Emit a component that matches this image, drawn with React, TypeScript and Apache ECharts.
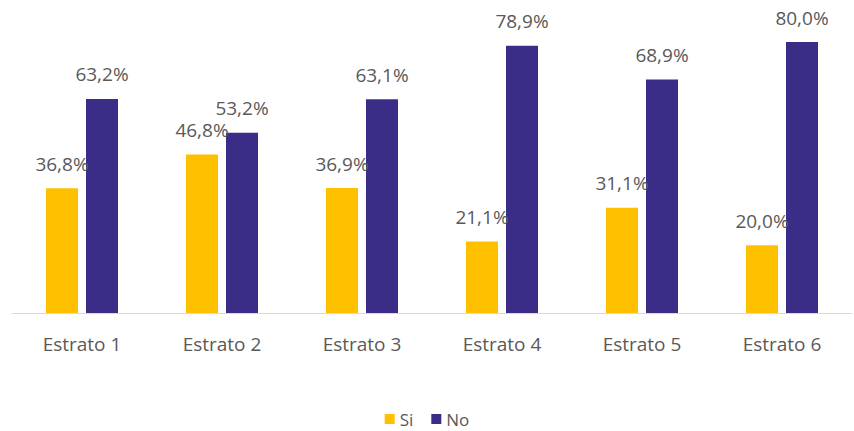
import React, { useEffect, useRef } from "react";
import * as echarts from "echarts";

const categories = ["Estrato 1", "Estrato 2", "Estrato 3", "Estrato 4", "Estrato 5", "Estrato 6"];
const siValues = [36.8, 46.8, 36.9, 21.1, 31.1, 20.0];
const noValues = [63.2, 53.2, 63.1, 78.9, 68.9, 80.0];
const seriesNames = ["Si", "No"];

const FONT = "'Open Sans', 'Noto Sans', sans-serif";
const fmt = (v: number) => v.toFixed(1).replace(".", ",") + "%";

export default function App() {
  const ref = useRef<HTMLDivElement>(null);
  useEffect(() => {
    if (!ref.current) return;
    const chart = echarts.init(ref.current, null, { renderer: "svg" });
    const label = {
      show: true,
      position: "top" as const,
      distance: 15,
      color: "#595959",
      fontSize: 19,
      fontFamily: FONT,
      formatter: (p: any) => fmt(p.value),
    };
    chart.setOption({
      animation: false,
      grid: { left: 12, right: 2, top: 42, bottom: 118, containLabel: false },
      legend: {
        data: seriesNames,
        top: 409,
        left: "center",
        padding: 0,
        itemWidth: 10,
        itemHeight: 10,
        itemGap: 18,
        icon: "rect",
        textStyle: { color: "#595959", fontSize: 17, lineHeight: 20, fontFamily: FONT },
      },
      xAxis: {
        type: "category",
        data: categories,
        axisLine: { lineStyle: { color: "#D9D9D9", width: 1 } },
        axisTick: { show: false },
        axisLabel: { color: "#595959", fontSize: 19, fontFamily: FONT, margin: 21 },
      },
      yAxis: { type: "value", min: 0, max: 80, show: false, splitLine: { show: false } },
      series: [
        {
          name: seriesNames[0],
          type: "bar",
          data: siValues,
          barWidth: 32,
          barGap: "25%",
          itemStyle: { color: "#FFC000" },
          label,
        },
        {
          name: seriesNames[1],
          type: "bar",
          data: noValues,
          barWidth: 32,
          barGap: "25%",
          itemStyle: { color: "#3A2D87" },
          label,
        },
      ],
    });
    return () => chart.dispose();
  }, []);
  return <div ref={ref} style={{ width: 854, height: 431, position: "absolute", left: 0, top: 0 }} />;
}
